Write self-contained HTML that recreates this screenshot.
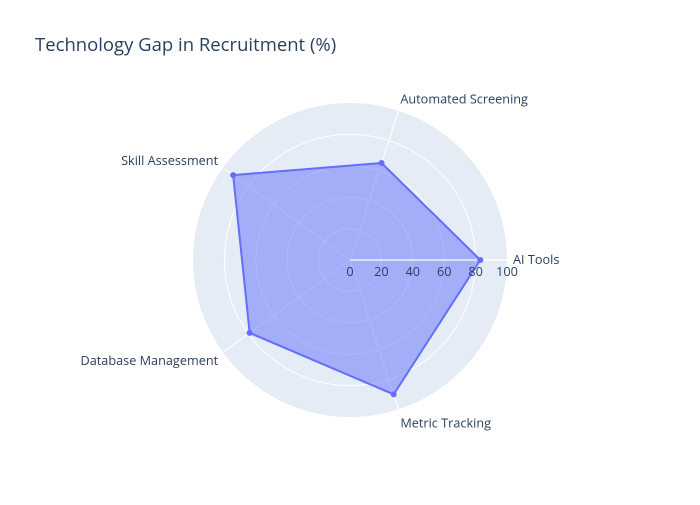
<!DOCTYPE html>
<html><head><meta charset="utf-8"><style>
body{margin:0;background:#fff;}
svg text{font-family:"Open Sans","Liberation Sans",sans-serif;}
</style></head><body>
<svg id="chart" width="700" height="500" xmlns="http://www.w3.org/2000/svg">
<rect width="700" height="500" fill="#fff"/>
<text x="35" y="51" font-size="18.5" fill="#2a3f5f">Technology Gap in Recruitment (%)</text>
<g id="plot"></g>
</svg>
<script>
const categories=["AI Tools","Automated Screening","Skill Assessment","Database Management","Metric Tracking"];
const values=[83,65,92,79,90];
const radialTicks=[0,20,40,60,80,100];
const cx=350,cy=260,R=157,rmax=100;
const ns="http://www.w3.org/2000/svg";
const g=document.getElementById('plot');
function mk(t,a,p){const e=document.createElementNS(ns,t);for(const k in a)e.setAttribute(k,a[k]);(p||g).appendChild(e);return e;}
function ang(i){return i*2*Math.PI/categories.length;}
function rs(v){return v/rmax*R;}
function pt(i,v){const a=ang(i);return [cx+rs(v)*Math.cos(a),cy-rs(v)*Math.sin(a)];}
const bg=mk('circle',{cx:cx,cy:cy,r:R,fill:'#e5ecf6'});


radialTicks.slice(1,-1).forEach(t=>{const c=mk('circle',{cx:cx,cy:cy,r:rs(t),fill:'none',stroke:'#fff','stroke-width':1});

});
categories.forEach((c,i)=>{const [x,y]=pt(i,rmax);const l=mk('line',{x1:cx,y1:cy,x2:x,y2:y,stroke:'#fff','stroke-width':1});

});
const poly=mk('polygon',{points:values.map((v,i)=>pt(i,v).join(',')).join(' '),fill:'rgba(99,110,250,0.5)',stroke:'#636efa','stroke-width':2,'stroke-linejoin':'round'});


const ax=mk('line',{x1:cx,y1:cy,x2:cx+R,y2:cy,stroke:'#fff','stroke-width':1.5,opacity:0.8});


values.forEach((v,i)=>{const [x,y]=pt(i,v);const m=mk('circle',{cx:x,cy:y,r:3,fill:'#636efa'});

});
radialTicks.forEach(t=>{const tx=mk('text',{x:cx+rs(t),y:cy+16,'font-size':12.7,fill:'#2a3f5f','text-anchor':'middle'});tx.textContent=t;

});
categories.forEach((c,i)=>{const a=ang(i);const x=cx+(R+6)*Math.cos(a),y=cy-(R+6)*Math.sin(a);
const cs=Math.cos(a),sn=Math.sin(a);const anchor=cs>0.1?'start':(cs<-0.1?'end':'middle');
const dy=sn>0?-sn*5.5:-sn*9;
const t=mk('text',{x:x,y:y+4+dy,'font-size':12.7,fill:'#2a3f5f','text-anchor':anchor});t.textContent=c;

});
</script>
</body></html>
